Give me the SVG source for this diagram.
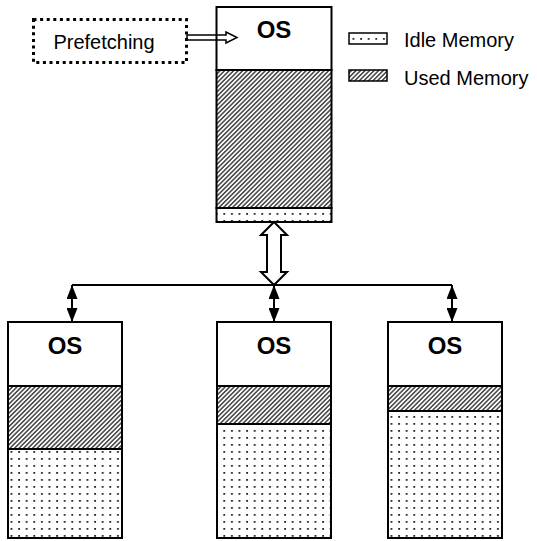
<svg xmlns="http://www.w3.org/2000/svg" width="537" height="541" viewBox="0 0 537 541">
<style>
.box{fill:#fff;stroke:#000;stroke-width:2}
.hatch{fill:url(#hatch);stroke:#000;stroke-width:2}
.dots{fill:url(#dots);stroke:#000;stroke-width:2}
.os{font-family:"Liberation Sans",Arial,sans-serif;font-weight:bold;font-size:24px;text-anchor:middle;fill:#000}
.lbl{font-family:"Liberation Sans",Arial,sans-serif;font-size:20px;fill:#000}
.link{stroke:#000;stroke-width:2;fill:none}
</style>
<defs>
<pattern id="hatch" patternUnits="userSpaceOnUse" width="3.2" height="3.2" patternTransform="rotate(45)">
<rect width="3.2" height="3.2" fill="#fff"/>
<line x1="0.8" y1="0" x2="0.8" y2="3.2" stroke="#333" stroke-width="1.4"/>
</pattern>
<pattern id="dots" patternUnits="userSpaceOnUse" width="7.6" height="7" x="0" y="0">
<rect width="7.6" height="7" fill="#fff"/>
<rect x="3" y="3" width="1.8" height="1.8" fill="#222"/>
</pattern>
<marker id="ah" viewBox="0 0 14 11" refX="14" refY="5.5" markerWidth="14" markerHeight="11" markerUnits="userSpaceOnUse" orient="auto-start-reverse">
<path d="M0,0 L14,5.5 L0,11 z" fill="#000"/>
</marker>
</defs>

<g id="prefetching">
<rect x="33.5" y="19.5" width="153" height="43" fill="#fff" stroke="#000" stroke-width="3" stroke-dasharray="3 3.6"/>
<text class="lbl" x="104" y="49" text-anchor="middle">Prefetching</text>
</g>

<g id="server">
<rect class="box" x="216.5" y="7" width="115" height="63"/>
<rect class="hatch" x="216.5" y="70" width="115" height="138"/>
<rect class="dots" x="216.5" y="208" width="115" height="14"/>
<text class="os" x="274" y="38">OS</text>
</g>

<g id="legend">
<rect x="349" y="33" width="38" height="11" fill="url(#dots)" stroke="#000" stroke-width="1.5"/>
<text class="lbl" x="404" y="47">Idle Memory</text>
<rect x="349" y="70" width="38" height="11" fill="url(#hatch)" stroke="#000" stroke-width="1.5"/>
<text class="lbl" x="404" y="85">Used Memory</text>
</g>

<g id="node1">
<rect class="box" x="8" y="322" width="114" height="64"/>
<rect class="hatch" x="8" y="386" width="114" height="63"/>
<rect class="dots" x="8" y="449" width="114" height="89"/>
<text class="os" x="65" y="354">OS</text>
</g>

<g id="node2">
<rect class="box" x="217" y="322" width="114" height="64"/>
<rect class="hatch" x="217" y="386" width="114" height="38"/>
<rect class="dots" x="217" y="424" width="114" height="114"/>
<text class="os" x="274" y="354">OS</text>
</g>

<g id="node3">
<rect class="box" x="388" y="322" width="114" height="64"/>
<rect class="hatch" x="388" y="386" width="114" height="25"/>
<rect class="dots" x="388" y="411" width="114" height="127"/>
<text class="os" x="445" y="354">OS</text>
</g>

<g id="connectors">
<path d="M187,35 L226,35 L226,32 L237,37.5 L226,43 L226,40 L187,40 Z" fill="none" stroke="#000" stroke-width="1.5"/>
<polygon points="274,222 287,235 281,235 281,272 287,272 274,285 261,272 267,272 267,235 261,235" fill="#fff" stroke="#000" stroke-width="2"/>
<line class="link" x1="72" y1="285" x2="452" y2="285"/>
<line class="link" x1="72" y1="285" x2="72" y2="322" marker-start="url(#ah)" marker-end="url(#ah)"/>
<line class="link" x1="274" y1="285" x2="274" y2="322" marker-start="url(#ah)" marker-end="url(#ah)"/>
<line class="link" x1="452" y1="285" x2="452" y2="322" marker-start="url(#ah)" marker-end="url(#ah)"/>
</g>
</svg>
